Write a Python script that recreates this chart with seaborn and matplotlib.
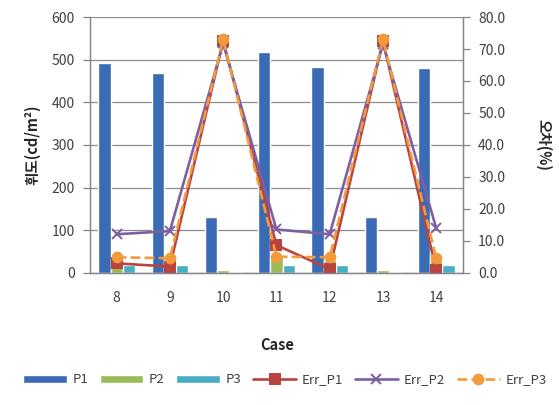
import numpy as np
import pandas as pd
import matplotlib
matplotlib.use("Agg")
import matplotlib.pyplot as plt
import seaborn as sns

# data
cases = ["8", "9", "10", "11", "12", "13", "14"]
p1 = [493, 468, 132, 519, 482, 132, 480]
p2 = [30, 38, 8, 40, 30, 8, 42]
p3 = [18, 18, 2, 18, 18, 2, 18]
err_p1 = [3.0, 2.0, 72.5, 8.7, 1.2, 72.5, 0.9]
err_p2 = [12.1, 13.1, 71.8, 13.6, 12.1, 71.6, 14.0]
err_p3 = [4.9, 4.6, 73.0, 5.1, 4.9, 73.0, 4.6]

bar_names = ["P1", "P2", "P3"]
err_names = ["Err_P1", "Err_P2", "Err_P3"]

bars = pd.DataFrame({"Case": cases, "P1": p1, "P2": p2, "P3": p3})
bars = bars.melt(id_vars="Case", var_name="series", value_name="value")
errs = pd.DataFrame({"Case": cases, "Err_P1": err_p1, "Err_P2": err_p2, "Err_P3": err_p3})
errs = errs.melt(id_vars="Case", var_name="series", value_name="value")

sns.set_theme(style="white")
plt.rcParams["font.family"] = ["Noto Sans CJK KR", "DejaVu Sans"]

bar_colors = ["#3A6BB5", "#9BBB59", "#4BACC6"]
err_colors = ["#B8433F", "#7E5FA3", "#F39A3D"]
text_grey = "#404040"
axis_grey = "#868686"

fig = plt.figure(figsize=(5.59, 4.05), dpi=100)
ax = fig.add_axes([0.161, 0.326, 0.667, 0.632])

sns.barplot(data=bars, x="Case", y="value", hue="series", order=cases,
            hue_order=bar_names, palette=bar_colors, width=0.69,
            saturation=1, ax=ax)
ax.set_ylim(0, 600)
ax.set_yticks(np.arange(0, 601, 100))
ax.yaxis.grid(True, color="#8C8C8C", linewidth=0.9)
ax.set_axisbelow(True)

ax2 = ax.twinx()
sns.pointplot(data=errs, x="Case", y="value", hue="series", order=cases,
              hue_order=err_names, palette=err_colors,
              markers=["s", "x", "o"], linestyles=["-", "-", "--"],
              markersize=7, linewidth=1.9, errorbar=None, dodge=False, ax=ax2)
ax2.set_ylim(0, 80)
ax2.set_yticks(np.arange(0, 81, 10))
ax2.set_yticklabels([f"{v:.1f}" for v in np.arange(0, 81, 10)])
ax2.set_xlim(-0.5, 6.5)
ax.set_xlim(-0.5, 6.5)

# category divider ticks on x
ax.set_xticks(np.arange(-0.5, 7, 1), minor=True)
ax.tick_params(axis="x", which="major", length=0, pad=13, labelsize=10, colors=text_grey)
ax.tick_params(axis="x", which="minor", length=5, color=axis_grey, width=0.9)
ax.tick_params(axis="y", length=5, color=axis_grey, width=0.9, labelsize=10,
               colors=text_grey, pad=6)
ax2.tick_params(axis="y", length=5, color=axis_grey, width=0.9, labelsize=10,
                colors=text_grey, pad=6)
for a in (ax, ax2):
    a.tick_params(axis="y", labelcolor=text_grey)
    a.set_xlabel("")
    for side in ("left", "right", "bottom"):
        a.spines[side].set_color(axis_grey)
        a.spines[side].set_linewidth(0.9)
    a.spines["top"].set_visible(False)

ax.set_ylabel("휘도(cd/m²)", fontsize=10.5, fontweight="bold", labelpad=8)
ax2.set_ylabel("오차(%)", fontsize=10.5, fontweight="bold", rotation=-90,
               va="bottom", labelpad=22)
fig.text(0.495, 0.148, "Case", ha="center", va="center", fontsize=10.5, fontweight="bold")

# one legend along the bottom
h1, l1 = ax.get_legend_handles_labels()
h2, l2 = ax2.get_legend_handles_labels()
ax.get_legend().remove()
ax2.get_legend().remove()
fig.legend(h1 + h2, l1 + l2, loc="center", bbox_to_anchor=(0.51, 0.062), ncol=6,
           frameon=False, fontsize=9.5, handlelength=3.3, handleheight=0.55,
           handletextpad=0.4, columnspacing=0.9, labelcolor=text_grey)

fig.savefig("out.png", dpi=100)
